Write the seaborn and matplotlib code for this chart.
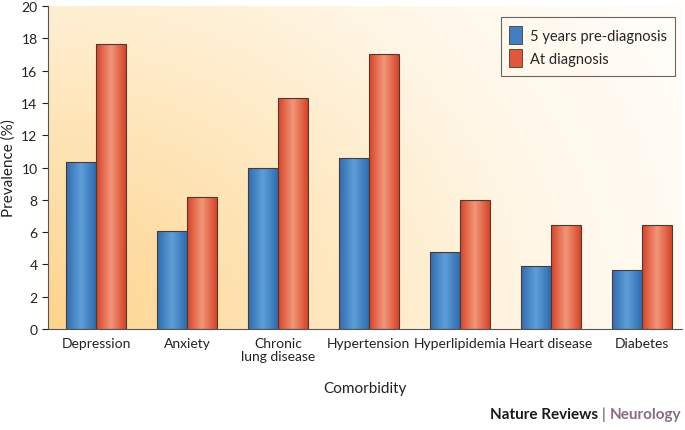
import numpy as np
import pandas as pd
import matplotlib
matplotlib.use("Agg")
import matplotlib.pyplot as plt
import seaborn as sns
from matplotlib.colors import LinearSegmentedColormap

# 데이터
categories = ["Depression", "Anxiety", "Chronic\nlung disease", "Hypertension",
              "Hyperlipidemia", "Heart disease", "Diabetes"]
pre_diag = [10.35, 6.05, 10.0, 10.57, 4.75, 3.9, 3.67]
at_diag = [17.65, 8.2, 14.28, 17.03, 7.97, 6.44, 6.44]
series = ["5 years pre-diagnosis", "At diagnosis"]

df = pd.DataFrame({
    "Comorbidity": categories * 2,
    "Prevalence": pre_diag + at_diag,
    "Series": [series[0]] * len(categories) + [series[1]] * len(categories),
})

sns.set_style("ticks")
plt.rcParams["font.family"] = ["Lato", "DejaVu Sans"]

fig = plt.figure(figsize=(6.85, 4.31), dpi=100)
ax = fig.add_axes([0.070, 0.234, 0.925, 0.750])

# 배경 그라데이션
bg_cmap = LinearSegmentedColormap.from_list("bg", ["#fdd38c", "#fee5b8", "#fff6e6", "#fffdfa"])
gx, gy = np.meshgrid(np.linspace(0, 1, 300), np.linspace(0, 1, 200))
grad = np.clip(np.sqrt((gx * 0.9) ** 2 + (gy * 0.55) ** 2) / 1.05, 0, 1)
ax.imshow(grad, cmap=bg_cmap, extent=[0, 1, 0, 1], transform=ax.transAxes,
          origin="lower", aspect="auto", zorder=0, interpolation="bicubic")

palette = {series[0]: "#3f7fc4", series[1]: "#e0573a"}
sns.barplot(data=df, x="Comorbidity", y="Prevalence", hue="Series", palette=palette,
            width=0.66, gap=0, edgecolor="#4a3a30", linewidth=0.8, saturation=1, ax=ax)

# 막대 안쪽 그라데이션
shade = {
    series[0]: ["#2f6cb0", "#5e9fd8", "#2f6cb0"],
    series[1]: ["#d84428", "#f2967a", "#d84428"],
}
n = len(categories)
for i, p in enumerate(ax.patches[:2 * n]):
    s = series[0] if i < n else series[1]
    cm = LinearSegmentedColormap.from_list("b%d" % i, shade[s])
    x0, w, h = p.get_x(), p.get_width(), p.get_height()
    im = ax.imshow(np.linspace(0, 1, 64).reshape(1, -1), cmap=cm,
                   extent=[x0, x0 + w, 0, h], aspect="auto", zorder=2)
    im.set_clip_path(p)
    p.set_facecolor("none")
    p.set_zorder(3)

ax.set_xlim(-0.53, 6.44)
ax.set_ylim(0, 20)
ax.set_yticks(range(0, 21, 2))
ax.set_xlabel("Comorbidity", fontsize=11, color="#222222", labelpad=14)
ax.set_ylabel("Prevalence (%)", fontsize=11, color="#222222", labelpad=4)
ax.tick_params(axis="x", length=0, labelsize=10, pad=6, colors="#222222")
ax.tick_params(axis="y", length=4, labelsize=10, colors="#222222", width=0.8)
for lbl in ax.get_xticklabels():
    lbl.set_linespacing(1.05)
sns.despine(ax=ax)
ax.spines["left"].set_color("#555555")
ax.spines["bottom"].set_color("#555555")

leg = ax.legend(loc="upper right", bbox_to_anchor=(0.995, 0.975), fontsize=10.5,
                frameon=True, fancybox=False, edgecolor="#666666", facecolor="none",
                framealpha=1.0, handlelength=0.9, handleheight=1.55, handletextpad=0.5,
                borderpad=0.6, labelspacing=0.35, borderaxespad=0.2, title=None)
leg.get_frame().set_linewidth(0.8)
for h in leg.legend_handles:
    h.set_edgecolor("#4a3a30")
    h.set_linewidth(0.6)

# 출처 표기
fig.canvas.draw()
r = fig.canvas.get_renderer()
t1 = fig.text(0.715, 0.022, "Nature Reviews", fontsize=11, fontweight="bold",
              color="#1a1a1a", ha="left", va="bottom")
x = t1.get_window_extent(r).x1 / fig.bbox.width
t2 = fig.text(x + 0.006, 0.022, "|", fontsize=11, color="#444444", ha="left", va="bottom")
x = t2.get_window_extent(r).x1 / fig.bbox.width
fig.text(x + 0.006, 0.022, "Neurology", fontsize=11, fontweight="bold", color="#8a6b88",
         ha="left", va="bottom")

fig.savefig("out.png", dpi=100)
